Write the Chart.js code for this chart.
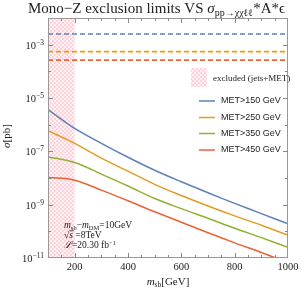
<!DOCTYPE html>
<html>
<head>
<meta charset="utf-8">
<script src="https://cdn.jsdelivr.net/npm/chart.js@4.4.0/dist/chart.umd.min.js"></script>
<style>
  html, body { margin: 0; padding: 0; background: #fff; overflow: hidden; }
</style>
</head>
<body>
<canvas id="chart" width="308" height="292"></canvas>
<script>
// Data
const masses = [100, 200, 300, 400, 500, 600, 700, 800, 900, 1000];
const met150 = [3.7e-6, 7.2e-7, 2.0e-7, 6.0e-8, 1.95e-8, 7.2e-9, 2.8e-9, 1.12e-9, 4.6e-10, 1.9e-10];
const met250 = [5.9e-7, 2.0e-7, 5.6e-8, 1.8e-8, 5.8e-9, 2.2e-9, 8.9e-10, 3.8e-10, 1.7e-10, 7.2e-11];
const met350 = [6.2e-8, 3.8e-8, 1.4e-8, 5.0e-9, 1.7e-9, 7.1e-10, 3.1e-10, 1.3e-10, 5.8e-11, 2.5e-11];
const met450 = [1.05e-8, 8.3e-9, 3.5e-9, 1.4e-9, 5.4e-10, 2.2e-10, 8.9e-11, 3.7e-11, 1.6e-11, 6.6e-12];
// observed limits (dashed); green sits under red
const limits = [2.5e-3, 5.5e-4, 2.6e-4, 2.6e-4];
const seriesLabels = ['MET>150 GeV', 'MET>250 GeV', 'MET>350 GeV', 'MET>450 GeV'];
const seriesColors = ['#5E81B5', '#E19C24', '#8FB032', '#EB6235'];
const excludedRange = [100, 200];
const xTicks = [200, 400, 600, 800, 1000];
const yTickExps = [-3, -5, -7, -9, -11];

const SERIF = "'Liberation Serif', 'DejaVu Serif', serif";
const SANS = "'Liberation Sans', Arial, sans-serif";

function checker(ctx) {
    const c = document.createElement('canvas');
    c.width = 4; c.height = 4;
    const g = c.getContext('2d');
    g.fillStyle = '#FFF1F3';
    g.fillRect(0, 0, 4, 4);
    g.fillStyle = '#FFD3DA';
    g.fillRect(0, 0, 2, 2);
    g.fillRect(2, 2, 2, 2);
    return ctx.createPattern(c, 'repeat');
}

function drawRuns(ctx, x, y, runs) {
    runs.forEach(r => {
        ctx.font = r.font;
        ctx.fillText(r.t, x, y + (r.dy || 0));
        x += ctx.measureText(r.t).width;
    });
    return x;
}

function runsWidth(ctx, runs) {
    let w = 0;
    runs.forEach(r => { ctx.font = r.font; w += ctx.measureText(r.t).width; });
    return w;
}

const datasets = [];
[met150, met250, met350, met450].forEach((vals, i) => {
    datasets.push({
        label: seriesLabels[i],
        data: masses.map((m, j) => ({ x: m, y: vals[j] })),
        borderColor: seriesColors[i],
        borderWidth: 1.5,
        pointRadius: 0,
        tension: 0.35,
        fill: false
    });
});
// dashed limit lines; lower index is drawn on top, so red comes first
[3, 0, 1, 2].forEach(i => {
    datasets.push({
        label: seriesLabels[i] + ' limit',
        data: [{ x: 100, y: limits[i] }, { x: 1000, y: limits[i] }],
        borderColor: seriesColors[i],
        borderWidth: 1.6,
        borderDash: [5, 3],
        pointRadius: 0,
        fill: false
    });
});

const framePlugin = {
    id: 'frame',
    beforeDatasetsDraw(chart) {
        const { ctx, chartArea: a, scales: { x } } = chart;
        const x0 = x.getPixelForValue(excludedRange[0]);
        const x1 = x.getPixelForValue(excludedRange[1]);
        ctx.save();
        ctx.fillStyle = checker(ctx);
        ctx.fillRect(x0, a.top, x1 - x0, a.bottom - a.top);
        ctx.restore();
    },
    afterDraw(chart) {
        const { ctx, chartArea: a, scales: { x, y } } = chart;
        ctx.save();

        // frame
        ctx.strokeStyle = '#999';
        ctx.lineWidth = 1;
        ctx.strokeRect(a.left + 0.5, a.top + 0.5, a.right - a.left - 1, a.bottom - a.top - 1);

        // x ticks, top and bottom
        ctx.strokeStyle = '#888';
        ctx.beginPath();
        for (let m = 150; m < 1000; m += 50) {
            const px = Math.round(x.getPixelForValue(m)) + 0.5;
            const len = (m % 200 === 0) ? 5 : 3;
            ctx.moveTo(px, a.bottom); ctx.lineTo(px, a.bottom - len);
            ctx.moveTo(px, a.top); ctx.lineTo(px, a.top + len);
        }
        for (let e = -10; e <= -3; e++) {
            const py = Math.round(y.getPixelForValue(Math.pow(10, e))) + 0.5;
            const len = (e % 2 !== 0) ? 5 : 3;
            ctx.moveTo(a.left, py); ctx.lineTo(a.left + len, py);
            ctx.moveTo(a.right, py); ctx.lineTo(a.right - len, py);
        }
        ctx.stroke();

        ctx.fillStyle = '#222';
        ctx.textBaseline = 'alphabetic';

        // x tick labels
        ctx.font = '10.5px ' + SERIF;
        ctx.textAlign = 'center';
        xTicks.forEach(v => ctx.fillText(String(v), x.getPixelForValue(v), a.bottom + 12));

        // y tick labels 10^n
        ctx.textAlign = 'left';
        yTickExps.forEach(e => {
            const py = y.getPixelForValue(Math.pow(10, e));
            const runs = [
                { t: '10', font: '10.5px ' + SERIF },
                { t: '\u2212' + Math.abs(e), font: '7.5px ' + SERIF, dy: -4 }
            ];
            drawRuns(ctx, a.left - 4 - runsWidth(ctx, runs), py + 4, runs);
        });

        // axis titles
        const xt = [
            { t: 'm', font: 'italic 11px ' + SERIF },
            { t: 'sb', font: '7.5px ' + SERIF, dy: 2 },
            { t: '[GeV]', font: '11px ' + SERIF }
        ];
        drawRuns(ctx, (a.left + a.right) / 2 - runsWidth(ctx, xt) / 2, 285, xt);

        ctx.save();
        ctx.translate(10, 136);
        ctx.rotate(-Math.PI / 2);
        const yt = [
            { t: '\u03C3', font: 'italic 11px ' + SERIF },
            { t: '[pb]', font: '11px ' + SERIF }
        ];
        drawRuns(ctx, -runsWidth(ctx, yt) / 2, 0, yt);
        ctx.restore();

        // title
        drawRuns(ctx, 28, 13, [
            { t: 'Mono\u2212Z exclusion limits VS ', font: '15px ' + SERIF },
            { t: '\u03C3', font: 'italic 15px ' + SERIF },
            { t: 'pp\u2192\u03C7\u03C7\u2113\u2113', font: '10px ' + SERIF, dy: 3 },
            { t: '*A*\u03F5', font: '15px ' + SERIF }
        ]);

        // legend
        ctx.fillStyle = checker(ctx);
        ctx.fillRect(191, 68, 16, 19);
        ctx.fillStyle = '#222';
        ctx.font = '9px ' + SERIF;
        ctx.textBaseline = 'middle';
        ctx.fillText('excluded (jets+MET)', 213, 79);
        const legY = [101, 117.5, 133.5, 150];
        ctx.font = '9px ' + SANS;
        seriesLabels.forEach((lab, i) => {
            ctx.strokeStyle = seriesColors[i];
            ctx.lineWidth = 1.5;
            ctx.beginPath();
            ctx.moveTo(199, legY[i]); ctx.lineTo(215, legY[i]);
            ctx.stroke();
            ctx.fillText(lab, 221, legY[i]);
        });

        // annotation
        ctx.textBaseline = 'alphabetic';
        const f = '9.5px ' + SERIF, fs = '6.5px ' + SERIF, fi = 'italic 9.5px ' + SERIF;
        drawRuns(ctx, 64, 228, [
            { t: 'm', font: fi }, { t: 'sb', font: fs, dy: 1.5 },
            { t: '\u2212', font: f },
            { t: 'm', font: fi }, { t: 'DM', font: fs, dy: 1.5 },
            { t: '=10GeV', font: f }
        ]);
        ctx.font = f;
        ctx.fillText('\u221A', 64, 238);
        const sx = 64 + ctx.measureText('\u221A').width;
        ctx.font = fi;
        ctx.fillText('s', sx, 238);
        const sw = ctx.measureText('s').width;
        ctx.fillRect(sx, 230.5, sw + 1, 0.7);
        drawRuns(ctx, sx + sw, 238, [{ t: ' =8TeV', font: f }]);
        drawRuns(ctx, 64, 248, [
            { t: '\u2112', font: fi },
            { t: '=20.30 fb', font: f },
            { t: '\u22121', font: fs, dy: -3.5 }
        ]);

        ctx.restore();
    }
};

new Chart(document.getElementById('chart'), {
    type: 'line',
    data: { datasets },
    options: {
        responsive: false,
        animation: false,
        devicePixelRatio: 1,
        layout: { padding: { top: 18, right: 20, left: 0, bottom: 0 } },
        plugins: { legend: { display: false }, tooltip: { enabled: false }, title: { display: false } },
        scales: {
            x: {
                type: 'linear', min: 100, max: 1000,
                ticks: { display: false }, grid: { display: false }, border: { display: false },
                afterFit: s => { s.height = 34; }
            },
            y: {
                type: 'logarithmic', min: 1e-11, max: 1e-2,
                ticks: { display: false }, grid: { display: false }, border: { display: false },
                afterFit: s => { s.width = 48; }
            }
        }
    },
    plugins: [framePlugin]
});
</script>
</body>
</html>
